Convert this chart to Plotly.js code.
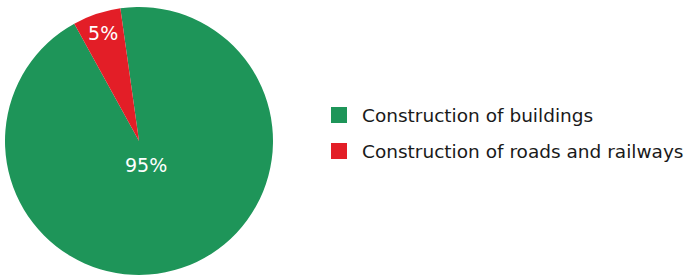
<!DOCTYPE html>
<html>
<head>
<meta charset="utf-8">
<script src="https://cdn.plot.ly/plotly-3.0.1.min.js"></script>
<style>html,body{margin:0;padding:0;background:#fff;}#chart{width:691px;height:277px;}</style>
</head>
<body>
<div id="chart"></div>
<script>
var categories = ["Construction of buildings", "Construction of roads and railways"];
var shares = [94.2, 5.8];
var shareLabels = ["95%", "5%"];
var colors = ["#1E9559", "#E31E27"];

var W = 691, H = 277;
var FONT = "DejaVu Sans, sans-serif";
var trace = {
  type: "pie",
  labels: categories,
  values: shares,
  text: shareLabels,
  textinfo: "text",
  textposition: ["none", "inside"],
  insidetextorientation: "horizontal",
  hoverinfo: "label+percent",
  sort: false,
  direction: "counterclockwise",
  rotation: -8,
  marker: {colors: colors, line: {width: 0}},
  insidetextfont: {family: FONT, size: 19, color: "#ffffff"},
  domain: {x: [5 / W, 273 / W], y: [2 / H, 270 / H]},
  showlegend: false
};

var shapes = [], annotations = [];
var legendX = 331, legendY0 = 115, legendStep = 36, box = 16;
categories.forEach(function (c, i) {
  var cy = legendY0 + i * legendStep;
  shapes.push({
    type: "rect", xref: "paper", yref: "paper",
    x0: legendX / W, x1: (legendX + box) / W,
    y0: 1 - (cy + box / 2) / H, y1: 1 - (cy - box / 2) / H,
    fillcolor: colors[i], line: {width: 0}
  });
  annotations.push({
    xref: "paper", yref: "paper", x: 360 / W, y: 1 - cy / H,
    xanchor: "left", yanchor: "middle", showarrow: false,
    text: c, font: {family: FONT, size: 18.5, color: "#1a1a1a"}
  });
});
// label of the large slice, placed near the pie centre as in the reference
annotations.push({
  xref: "paper", yref: "paper", x: 146 / W, y: 1 - 165 / H,
  xanchor: "center", yanchor: "middle", showarrow: false,
  text: shareLabels[0], font: {family: FONT, size: 19, color: "#ffffff"}
});

var layout = {
  width: W, height: H,
  margin: {l: 0, r: 0, t: 0, b: 0},
  paper_bgcolor: "#ffffff",
  shapes: shapes,
  annotations: annotations,
  showlegend: false
};
Plotly.newPlot("chart", [trace], layout, {displayModeBar: false, staticPlot: true});
</script>
</body>
</html>
